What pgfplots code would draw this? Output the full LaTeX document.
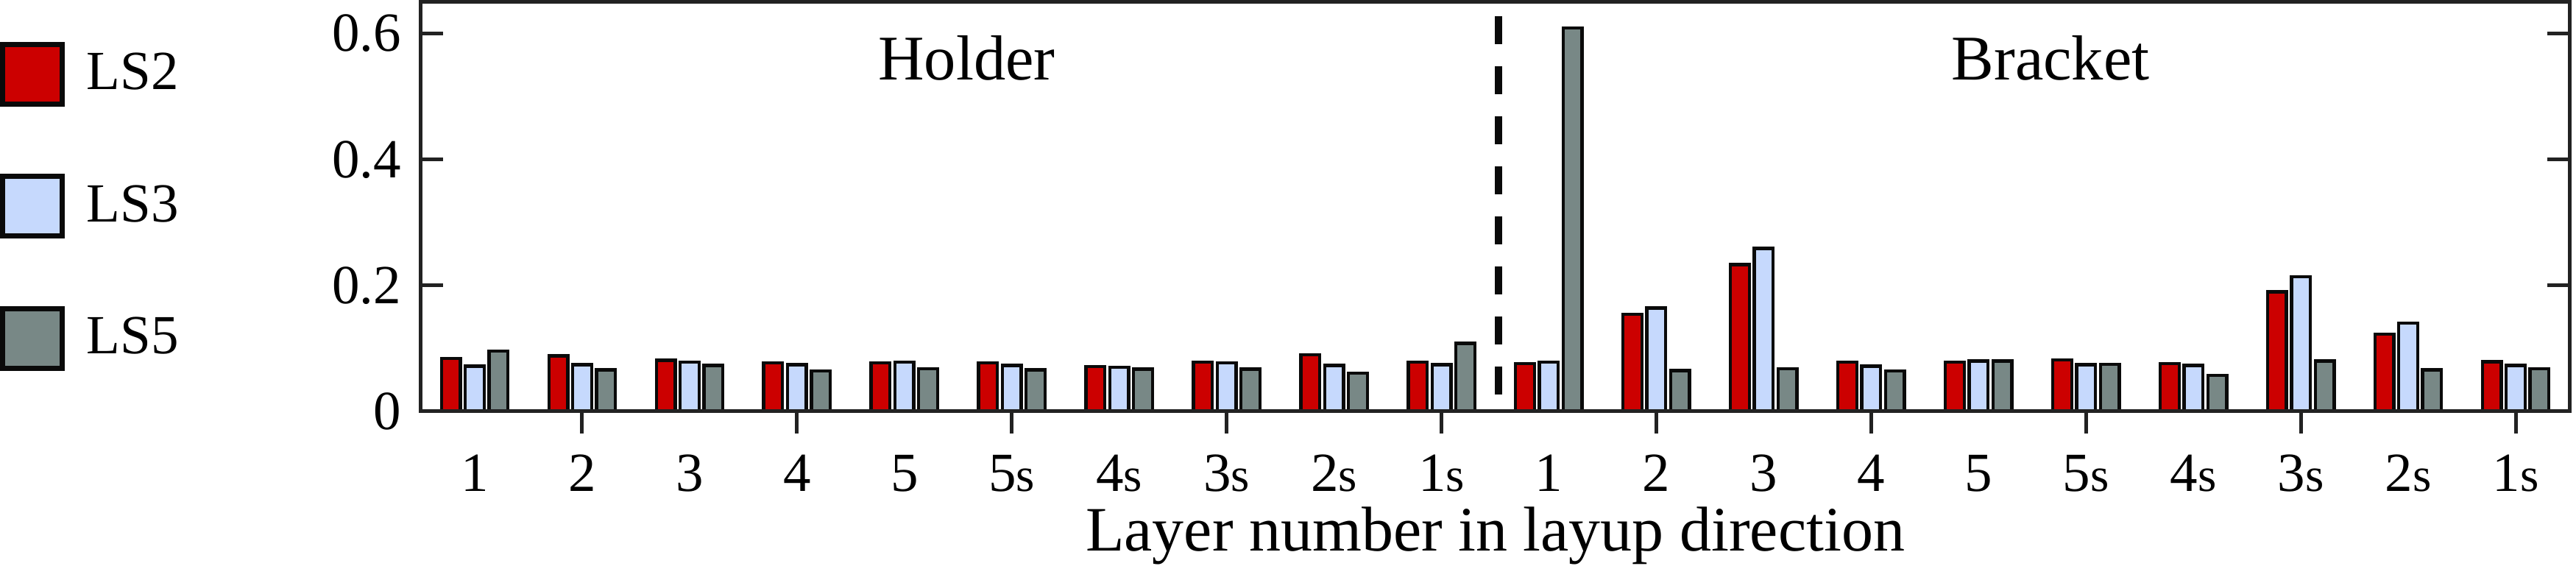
\documentclass[border=0pt]{standalone}
\usepackage{fontspec}
\setmainfont{Liberation Serif}
\newfontfamily\tms{Liberation Serif}
\usepackage{pgfplots}
\usepackage{pgfplotstable}
\pgfplotsset{compat=1.18}
\definecolor{cRed}{RGB}{204,0,0}
\definecolor{cBlue}{RGB}{198,217,253}
\definecolor{cGray}{RGB}{120,136,134}
\definecolor{cEdge}{RGB}{10,10,10}
\definecolor{cAxis}{RGB}{34,34,34}
\newcommand{\Ss}[1]{#1{\fontsize{13pt}{13pt}\selectfont s}}

\pgfplotstableread{
x   ls2    ls3    ls5
1   0.084  0.072  0.096
2   0.088  0.074  0.066
3   0.081  0.078  0.073
4   0.077  0.074  0.064
5   0.077  0.078  0.068
6   0.077  0.073  0.066
7   0.071  0.070  0.067
8   0.078  0.077  0.067
9   0.090  0.073  0.061
10  0.078  0.074  0.108
11  0.076  0.078  0.609
12  0.154  0.164  0.065
13  0.233  0.259  0.068
14  0.078  0.072  0.064
15  0.078  0.080  0.080
16  0.082  0.074  0.075
17  0.076  0.073  0.057
18  0.190  0.214  0.080
19  0.123  0.140  0.066
20  0.079  0.073  0.068
}\data

\begin{document}
\begin{tikzpicture}
\begin{axis}[
  name=ax,
  scale only axis,
  width=583.8pt, height=111.26pt,
  xmin=0.5, xmax=20.5, ymin=0, ymax=0.65,
  axis on top,
  axis line style={cAxis, line width=1pt},
  tick style={cAxis, line width=1pt},
  tick align=inside,
  major tick length=6pt,
  /pgf/number format/assume math mode=true,
  xtick={2,4,...,20},
  xticklabels={},
  extra x ticks={1,...,20},
  extra x tick labels={1,2,3,4,5,\Ss{5},\Ss{4},\Ss{3},\Ss{2},\Ss{1},1,2,3,4,5,\Ss{5},\Ss{4},\Ss{3},\Ss{2},\Ss{1}},
  extra x tick style={tick style={draw=none}},
  ytick={0,0.2,0.4,0.6},
  yticklabels={0,0.2,0.4,0.6},
  ticklabel style={font=\tms\fontsize{15pt}{15pt}\selectfont},
  xticklabel style={anchor=base, inner sep=0pt, yshift=-15.8pt},
  yticklabel style={anchor=east, inner sep=0pt, xshift=-5.2pt},
  xlabel={Layer number in layup direction},
  xlabel style={at={(axis description cs:0.5,0)}, anchor=base, yshift=-38pt, inner sep=0pt, font=\tms\fontsize{17.2pt}{17.2pt}\selectfont},
  ybar=1.34pt,
  bar width=5.13pt,
  legend entries={LS2,LS3,LS5},
  legend image code/.code={\draw[#1, line width=1.4pt] (0.7pt,-8.1pt) rectangle (16.9pt,8.1pt);},
  legend style={at={(axis description cs:0,1)}, anchor=north west, xshift=-114.4pt, yshift=-10.8pt,
    draw=none, fill=none, inner sep=0pt, outer sep=0pt, row sep=18.3pt, column sep=6pt,
    nodes={inner sep=0pt, outer sep=0pt},
    font=\tms\fontsize{15pt}{15pt}\selectfont},
  legend cell align=left,
]
\addplot[draw=cEdge, fill=cRed, line width=0.87pt] table[x=x, y=ls2] {\data};
\addplot[draw=cEdge, fill=cBlue, line width=0.87pt] table[x=x, y=ls3] {\data};
\addplot[draw=cEdge, fill=cGray, line width=0.87pt] table[x=x, y=ls5] {\data};
\draw[cEdge, line width=2pt, dash pattern=on 7.7pt off 5.9pt] (axis cs:10.53,0.6275) -- (axis cs:10.53,0.0257);
\node[anchor=base, inner sep=0pt, font=\tms\fontsize{17.3pt}{17.3pt}\selectfont] at (axis cs:5.58,0.526) {Holder};
\node[anchor=base, inner sep=0pt, font=\tms\fontsize{17.3pt}{17.3pt}\selectfont] at (axis cs:15.67,0.526) {Bracket};
\end{axis}
\pgfresetboundingbox
\path[use as bounding box] ([xshift=-114.4pt,yshift=-42pt]ax.south west) rectangle ([xshift=1.8pt,yshift=0.54pt]ax.north east);
\end{tikzpicture}
\end{document}
